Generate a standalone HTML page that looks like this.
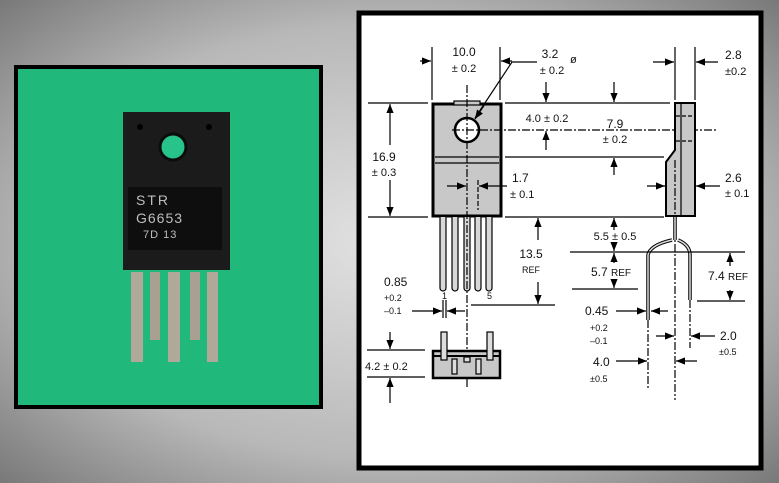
<!DOCTYPE html>
<html><head><meta charset="utf-8"><style>
html,body{margin:0;padding:0;width:779px;height:483px;overflow:hidden}
svg{display:block}
text{font-family:"Liberation Sans",sans-serif;fill:#111}
</style></head><body>
<svg width="779" height="483" viewBox="0 0 779 483" xmlns="http://www.w3.org/2000/svg">
<defs>
<radialGradient id="bg" cx="0.5" cy="0.5" r="0.75">
<stop offset="0" stop-color="#e2e2e2"/><stop offset="0.6" stop-color="#b8b8b8"/><stop offset="1" stop-color="#6e6e6e"/>
</radialGradient>
<marker id="ar" viewBox="0 0 10 10" refX="10" refY="5" markerWidth="9" markerHeight="9" orient="auto-start-reverse" markerUnits="userSpaceOnUse"><path d="M0,1 L10,5 L0,9 z" fill="#000"/></marker>
</defs>
<rect width="779" height="483" fill="url(#bg)"/>
<!-- photo panel -->
<rect x="16" y="67" width="305" height="340" fill="#21b87c" stroke="#000" stroke-width="4"/>
<g>
<rect x="123" y="112" width="107" height="158" fill="#1b1b1b"/>
<circle cx="173" cy="147" r="13" fill="#27c38a" stroke="#0c0c0c" stroke-width="3"/>
<circle cx="140" cy="127" r="3" fill="#000"/><circle cx="209" cy="127" r="3" fill="#000"/>
<rect x="128" y="187" width="94" height="63" fill="#0e0e0e"/>
<text x="136" y="205" font-size="14" fill="#bbb" style="fill:#bdbdbd" letter-spacing="2">STR</text>
<text x="136" y="223" font-size="14" style="fill:#bdbdbd" letter-spacing="1">G6653</text>
<text x="143" y="238" font-size="11" style="fill:#bdbdbd" letter-spacing="1">7D 13</text>
<rect x="131" y="272" width="12" height="90" fill="#b0a898"/>
<rect x="150" y="272" width="10" height="68" fill="#a8a090"/>
<rect x="168" y="272" width="12" height="90" fill="#b0a898"/>
<rect x="190" y="272" width="10" height="68" fill="#a8a090"/>
<rect x="207" y="272" width="11" height="90" fill="#b0a898"/>
</g>
<!-- drawing panel -->
<rect x="359" y="13" width="402" height="455" fill="#fff" stroke="#000" stroke-width="5"/>
<g stroke="#000" stroke-width="1.2" fill="none">
<!-- front view body -->
<rect x="433" y="104" width="68" height="112" fill="#c8c8c8" stroke-width="3"/>
<line x1="435" y1="157" x2="499" y2="157"/><line x1="435" y1="163" x2="499" y2="163"/>
<rect x="454" y="101" width="26" height="4" fill="#c8c8c8"/>
<circle cx="467" cy="130" r="12" fill="#fff" stroke-width="2.5"/>
<!-- leads front -->
<g fill="#d8d8d8">
<path d="M440,217 V288 a3,3 0 0 0 6,0 V217"/>
<path d="M452,217 V288 a3,3 0 0 0 6,0 V217"/>
<path d="M464,217 V288 a3,3 0 0 0 6,0 V217"/>
<path d="M475,217 V288 a3,3 0 0 0 6,0 V217"/>
<path d="M486,217 V288 a3,3 0 0 0 6,0 V217"/>
</g>
<line x1="467" y1="85" x2="467" y2="388" stroke-dasharray="8,2,2,2"/>
<line x1="478" y1="180" x2="478" y2="210" stroke-dasharray="5,2"/>
<!-- 16.9 -->
<line x1="368" y1="103" x2="428" y2="103"/><line x1="368" y1="217" x2="428" y2="217"/>
<line x1="390" y1="145" x2="390" y2="104" marker-end="url(#ar)"/>
<line x1="390" y1="180" x2="390" y2="216" marker-end="url(#ar)"/>
<!-- 10.0 -->
<line x1="432" y1="47" x2="432" y2="100"/><line x1="500" y1="47" x2="500" y2="100"/>
<line x1="420" y1="61" x2="431" y2="61" marker-end="url(#ar)"/>
<line x1="512" y1="61" x2="501" y2="61" marker-end="url(#ar)"/>
<!-- 3.2 leader -->
<polyline points="537,62 512,62 475,118" /><line x1="485" y1="104" x2="475" y2="119" marker-end="url(#ar)"/>
<!-- right lines -->
<line x1="505" y1="103" x2="670" y2="103"/>
<line x1="505" y1="157" x2="664" y2="157"/>
<line x1="505" y1="217" x2="664" y2="217"/>
<line x1="452" y1="130" x2="718" y2="130" stroke-dasharray="8,2,2,2"/>
<line x1="546" y1="82" x2="546" y2="102" marker-end="url(#ar)"/>
<line x1="546" y1="150" x2="546" y2="131" marker-end="url(#ar)"/>
<line x1="614" y1="82" x2="614" y2="102" marker-end="url(#ar)"/>
<line x1="614" y1="175" x2="614" y2="158" marker-end="url(#ar)"/>
<!-- 1.7 -->
<line x1="447" y1="186" x2="466" y2="186" marker-end="url(#ar)"/>
<line x1="507" y1="186" x2="479" y2="186" marker-end="url(#ar)"/>
<!-- 13.5 -->
<line x1="538" y1="240" x2="538" y2="218" marker-end="url(#ar)"/>
<line x1="538" y1="282" x2="538" y2="304" marker-end="url(#ar)"/>
<line x1="471" y1="305" x2="555" y2="305"/>
<!-- 0.85 -->
<line x1="443" y1="300" x2="443" y2="318"/><line x1="446" y1="300" x2="446" y2="318"/>
<line x1="412" y1="311" x2="442" y2="311" marker-end="url(#ar)"/>
<line x1="465" y1="311" x2="447" y2="311" marker-end="url(#ar)"/>
<!-- bottom view -->
<rect x="433" y="351" width="67" height="27" fill="#c8c8c8" stroke-width="2.5"/>
<line x1="434" y1="356" x2="499" y2="356" stroke-width="2"/>
<rect x="441" y="332" width="6" height="28" fill="#ddd"/>
<rect x="487" y="332" width="6" height="28" fill="#ddd"/>
<rect x="452" y="359" width="5" height="15" fill="#ddd"/>
<rect x="476" y="359" width="5" height="15" fill="#ddd"/>
<rect x="464" y="357" width="6" height="5" fill="#ddd"/>
<line x1="367" y1="350" x2="425" y2="350"/><line x1="367" y1="377" x2="425" y2="377"/>
<line x1="390" y1="332" x2="390" y2="349" marker-end="url(#ar)"/>
<line x1="390" y1="403" x2="390" y2="378" marker-end="url(#ar)"/>
<!-- side view -->
<path d="M675,103 H695 V216 H666 V162 L675,150 Z" fill="#c8c8c8" stroke-width="2"/>
<line x1="681" y1="104" x2="681" y2="215"/>
<line x1="676" y1="116" x2="694" y2="116" stroke-dasharray="4,2"/>
<line x1="676" y1="141" x2="694" y2="141" stroke-dasharray="4,2"/>
<line x1="675" y1="47" x2="675" y2="100"/><line x1="695" y1="47" x2="695" y2="100"/>
<line x1="653" y1="62" x2="674" y2="62" marker-end="url(#ar)"/>
<line x1="718" y1="62" x2="696" y2="62" marker-end="url(#ar)"/>
<line x1="647" y1="186" x2="665" y2="186" marker-end="url(#ar)"/>
<line x1="720" y1="186" x2="696" y2="186" marker-end="url(#ar)"/>
<line x1="675" y1="160" x2="675" y2="400" stroke-dasharray="8,2,2,2"/>
<!-- side leads -->
<path d="M675,217 V240 M672,240 Q650,245 648,255 V320 M678,240 Q690,245 690,255 V300" stroke-width="3.5" stroke="#000"/>
<path d="M675,217 V240 M672,240 Q650,245 648,255 V320 M678,240 Q690,245 690,255 V300" stroke-width="1.5" stroke="#ddd"/>
<line x1="648" y1="320" x2="648" y2="390" stroke-dasharray="8,2,2,2"/>
<line x1="690" y1="300" x2="690" y2="348" stroke-dasharray="8,2,2,2"/>
<line x1="614" y1="230" x2="614" y2="218" marker-end="url(#ar)"/>
<line x1="614" y1="242" x2="614" y2="251" marker-end="url(#ar)"/>
<line x1="570" y1="252" x2="745" y2="252"/>
<line x1="572" y1="289" x2="638" y2="289"/>
<line x1="614" y1="263" x2="614" y2="253" marker-end="url(#ar)"/>
<line x1="614" y1="280" x2="614" y2="288" marker-end="url(#ar)"/>
<line x1="697" y1="301" x2="745" y2="301"/>
<line x1="730" y1="266" x2="730" y2="253" marker-end="url(#ar)"/>
<line x1="730" y1="290" x2="730" y2="300" marker-end="url(#ar)"/>
<!-- 0.45 -->
<line x1="616" y1="311" x2="646" y2="311" marker-end="url(#ar)"/>
<line x1="668" y1="311" x2="651" y2="311" marker-end="url(#ar)"/>
<!-- 2.0 -->
<line x1="656" y1="336" x2="674" y2="336" marker-end="url(#ar)"/>
<line x1="715" y1="336" x2="691" y2="336" marker-end="url(#ar)"/>
<!-- 4.0 -->
<line x1="616" y1="361" x2="647" y2="361" marker-end="url(#ar)"/>
<line x1="697" y1="361" x2="676" y2="361" marker-end="url(#ar)"/>
</g>
<g font-size="12">
<text x="464" y="56" text-anchor="middle">10.0</text>
<text x="464" y="72" text-anchor="middle" font-size="11">± 0.2</text>
<text x="550" y="58" text-anchor="middle">3.2</text>
<text x="552" y="74" text-anchor="middle" font-size="11">± 0.2</text>
<text x="570" y="63" font-size="11">ø</text>
<text x="384" y="161" text-anchor="middle">16.9</text>
<text x="384" y="176" text-anchor="middle" font-size="11">± 0.3</text>
<text x="547" y="122" text-anchor="middle" font-size="11">4.0 ± 0.2</text>
<text x="615" y="128" text-anchor="middle">7.9</text>
<text x="615" y="143" text-anchor="middle" font-size="11">± 0.2</text>
<text x="512" y="182">1.7</text>
<text x="510" y="198" font-size="11">± 0.1</text>
<text x="725" y="59">2.8</text>
<text x="725" y="75" font-size="11">±0.2</text>
<text x="725" y="182">2.6</text>
<text x="725" y="197" font-size="11">± 0.1</text>
<text x="615" y="240" text-anchor="middle" font-size="11">5.5 ± 0.5</text>
<text x="531" y="258" text-anchor="middle">13.5</text>
<text x="531" y="273" text-anchor="middle" font-size="9">REF</text>
<text x="591" y="276" font-size="12">5.7 <tspan font-size="10">REF</tspan></text>
<text x="708" y="280" font-size="12">7.4 <tspan font-size="10">REF</tspan></text>
<text x="384" y="286">0.85</text>
<text x="384" y="301" font-size="9">+0.2</text>
<text x="384" y="314" font-size="9">–0.1</text>
<text x="442" y="299" font-size="9">1</text>
<text x="487" y="299" font-size="9">5</text>
<text x="365" y="370" font-size="11">4.2 ± 0.2</text>
<text x="585" y="315">0.45</text>
<text x="590" y="331" font-size="9">+0.2</text>
<text x="590" y="344" font-size="9">–0.1</text>
<text x="720" y="340">2.0</text>
<text x="719" y="355" font-size="9">±0.5</text>
<text x="593" y="366">4.0</text>
<text x="590" y="382" font-size="9">±0.5</text>
</g>
</svg>
</body></html>
